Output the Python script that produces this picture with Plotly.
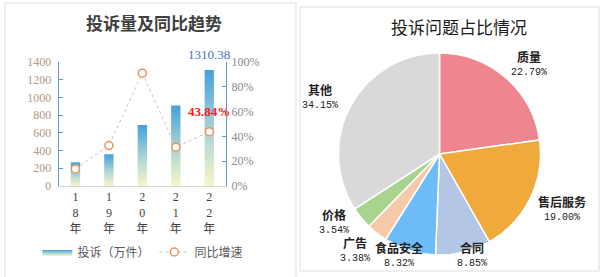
import math
import plotly.graph_objects as go

# ---------------- data ----------------
years = ["18年", "19年", "20年", "21年", "22年"]
complaints = [268, 358, 688, 908, 1310.38]          # 投诉（万件）
growth = [13.8, 32.6, 91.0, 31.3, 43.84]             # 同比增速 (%)

issue_labels = ["质量", "售后服务", "合同", "食品安全", "广告", "价格", "其他"]
issue_values = [22.79, 19.00, 8.85, 8.32, 3.38, 3.54, 34.15]
issue_colors = ["#ef868f", "#f0aa3c", "#b3c6e6", "#6dbcf7", "#f6c9a9", "#a9d48f", "#d9d9d9"]

W, H = 603, 277
SERIF = "Liberation Serif, Times New Roman, serif"
CJK = "Noto Sans CJK SC"

fig = go.Figure()

# ---------------- bars (gradient filled) ----------------
bar_w = 0.28
grad = [[0, "#f7f6c8"], [0.5, "#a6d2d6"], [1, "#44a1dc"]]
for i, v in enumerate(complaints):
    xs = [i - bar_w / 2, i + bar_w / 2, i + bar_w / 2, i - bar_w / 2, i - bar_w / 2]
    ys = [0, 0, v, v, 0]
    fig.add_trace(go.Scatter(
        x=xs, y=ys, mode="lines", fill="toself",
        line=dict(width=0, color="rgba(0,0,0,0)"),
        fillcolor="#7fbfdc",
        fillgradient=dict(type="vertical", colorscale=grad, start=0, stop=v),
        name="投诉（万件）", legendgroup="bar", showlegend=(i == 0),
        hoverinfo="skip", xaxis="x", yaxis="y",
    ))

# ---------------- growth line ----------------
fig.add_trace(go.Scatter(
    x=list(range(len(years))), y=growth, mode="lines+markers",
    line=dict(color="#c4c4c4", width=1, dash="dot"),
    marker=dict(symbol="circle", size=8, color="white",
                line=dict(color="#f0915a", width=1.5)),
    name="同比增速", xaxis="x", yaxis="y2",
))

# ---------------- pie ----------------
cx, cy, R = 439.5, 154.0, 101.0
fig.add_trace(go.Pie(
    labels=issue_labels, values=issue_values, sort=False, direction="clockwise",
    rotation=0, marker=dict(colors=issue_colors, line=dict(color="white", width=1.5)),
    textinfo="none", showlegend=False, hoverinfo="label+percent",
    domain=dict(x=[(cx - R) / W, (cx + R) / W], y=[(H - cy - R) / H, (H - cy + R) / H]),
))

# label positions from slice mid-angles (ellipse), clamped to panel bottom,
# with a simple collision push
total = sum(issue_values)
cum = 0.0
pos = []
for val in issue_values:
    mid = (cum + val / 2) / total * 2 * math.pi
    cum += val
    px = cx + 1.35 * R * math.sin(mid)
    py = cy - 1.2 * R * math.cos(mid)
    py = min(py, cy + 100)
    pos.append([px, py])
for k in range(1, len(pos)):
    (ax, ay), (bx, by) = pos[k - 1], pos[k]
    if abs(ax - bx) < 40 and abs(ay - by) < 28:
        if bx < cx:
            pos[k][1] = ay - 28
        else:
            pos[k][1] = ay + 28

annotations = []
for lab, val, (px, py) in zip(issue_labels, issue_values, pos):
    annotations.append(dict(
        x=px / W, y=(H - py) / H, xref="paper", yref="paper",
        text=f"<span style='font-family:{CJK};font-size:12px'><b>{lab}</b></span><br>{val:.2f}%",
        showarrow=False, xanchor="center", yanchor="middle",
        font=dict(family="Liberation Mono, Noto Sans CJK SC", size=10, color="#222222"),
    ))

# ---------------- titles & data labels ----------------
annotations.append(dict(x=154 / W, y=(H - 22) / H, xref="paper", yref="paper",
                        xanchor="center", yanchor="middle",
                        text="<b>投诉量及同比趋势</b>", showarrow=False,
                        font=dict(family=CJK, size=17, color="#404040")))
annotations.append(dict(x=459 / W, y=(H - 26) / H, xref="paper", yref="paper",
                        xanchor="center", yanchor="middle",
                        text="投诉问题占比情况", showarrow=False,
                        font=dict(family=CJK, size=17, color="#1a1a1a")))
annotations.append(dict(x=4, y=complaints[-1], xref="x", yref="y",
                        xanchor="center", yanchor="middle",
                        text=f"{complaints[-1]:.2f}", showarrow=False, yshift=15,
                        font=dict(family=SERIF, size=13, color="#4472c4")))
annotations.append(dict(x=4, y=growth[-1], xref="x", yref="y2",
                        xanchor="center", yanchor="middle",
                        text=f"<b>{growth[-1]:.2f}%</b>", showarrow=False, yshift=20,
                        font=dict(family=SERIF, size=13, color="#ff1a1a")))

# ---------------- panel borders ----------------
shapes = [
    dict(type="rect", xref="paper", yref="paper", x0=5 / W, x1=296 / W, y0=-0.02, y1=(H - 3) / H,
         line=dict(color="#dedede", width=1), fillcolor="rgba(0,0,0,0)", layer="below"),
    dict(type="rect", xref="paper", yref="paper", x0=300 / W, x1=599 / W, y0=(H - 271) / H, y1=(H - 7) / H,
         line=dict(color="#dedede", width=1), fillcolor="rgba(0,0,0,0)", layer="below"),
]

x0p, x1p = 58.7 / W, 226 / W
y0p, y1p = (H - 186) / H, (H - 62) / H

fig.update_layout(
    width=W, height=H, margin=dict(l=0, r=0, t=0, b=0),
    paper_bgcolor="white", plot_bgcolor="rgba(0,0,0,0)",
    xaxis=dict(domain=[x0p, x1p], range=[-0.5, 4.5], tickvals=list(range(len(years))),
               ticktext=["<br>".join(list(y)) for y in years],
               showline=True, linecolor="#d6d6d6", linewidth=1, ticks="", showgrid=False,
               zeroline=False, automargin=False,
               tickfont=dict(family=SERIF + ", Noto Sans CJK SC", size=12, color="#404040")),
    yaxis=dict(domain=[y0p, y1p], range=[0, 1400], dtick=200, showline=True,
               linecolor="#5b9bd5", linewidth=1, ticks="inside", ticklen=4,
               tickcolor="#5b9bd5", showgrid=False, zeroline=False, automargin=False,
               ticklabelstandoff=4,
               tickfont=dict(family=SERIF, size=12, color="#b09a84")),
    yaxis2=dict(domain=[y0p, y1p], range=[0, 100], dtick=20, ticksuffix="%",
                overlaying="y", side="right", anchor="x", showline=True,
                linecolor="#5b9bd5", linewidth=1, ticks="inside", ticklen=4,
                tickcolor="#5b9bd5", showgrid=False, zeroline=False, automargin=False,
                ticklabelstandoff=2,
                tickfont=dict(family=SERIF, size=12, color="#8a8a8a")),
    legend=dict(orientation="h", x=0.062, y=(H - 252) / H, xanchor="left", yanchor="middle",
                font=dict(family=CJK, size=12, color="#595959"), bgcolor="rgba(0,0,0,0)",
                itemwidth=30, tracegroupgap=0),
    annotations=annotations, shapes=shapes,
)

fig.write_html("out.html")
